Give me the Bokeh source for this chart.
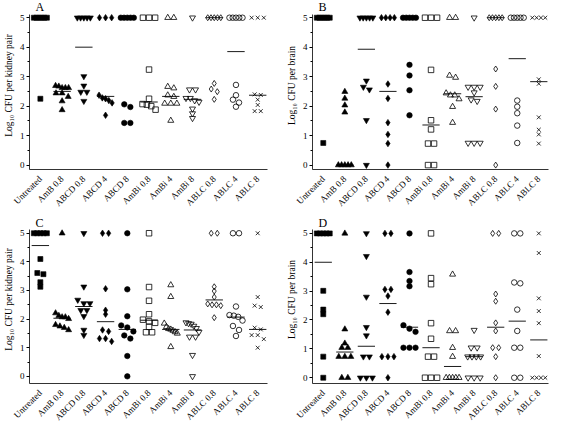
import math
import numpy as np
from bokeh.plotting import figure
from bokeh.layouts import column, row
from bokeh.models import FixedTicker, Label
from bokeh.embed import file_html
from bokeh.resources import INLINE

groups = ["Untreated", "AmB 0.8", "ABCD 0.8", "ABCD 4", "ABCD 8", "AmBi 0.8",
          "AmBi 4", "AmBi 8", "ABLC 0.8", "ABLC 4", "ABLC 8"]

# Panel A: log10 CFU per kidney pair
A_values = [
    [5, 5, 5, 5, 5, 5, 2.25],
    [2.69, 2.67, 2.62, 2.62, 2.62, 2.44, 2.44, 2.32, 2.17, 1.87],
    [5, 5, 5, 5, 5, 3.01, 2.69, 2.48, 2.48, 2.17],
    [5, 5, 5, 2.37, 2.28, 2.25, 2.19, 2.11, 1.69],
    [5, 5, 5, 5, 5, 2.06, 1.97, 1.43, 1.43],
    [5, 5, 5, 3.24, 2.25, 2.07, 2.05, 2.0, 1.88],
    [5, 5, 2.66, 2.61, 2.37, 2.32, 2.09, 2.09, 2.09, 1.51],
    [5, 2.56, 2.56, 2.27, 2.27, 2.19, 2.14, 1.91, 1.75, 1.59],
    [5, 5, 5, 5, 5, 2.77, 2.58, 2.49, 2.23],
    [5, 5, 5, 5, 5, 2.72, 2.37, 2.22, 2.12, 1.98],
    [5, 5, 5, 2.40, 2.38, 2.22, 2.04, 1.83, 1.83],
]
A_medians = [5, 2.5, 4.0, 2.33, 5, 2.14, 2.33, 2.23, 5, 3.85, 2.37]

# Panel B: log10 CFU per brain
B_values = [
    [5, 5, 5, 5, 5, 5, 0.75],
    [2.49, 2.26, 2.03, 1.79, 0, 0, 0, 0, 0],
    [5, 5, 5, 5, 5, 2.86, 2.65, 2.56, 1.52, 0],
    [5, 5, 5, 5, 2.75, 2.26, 1.44, 1.04, 0.73, 0],
    [5, 5, 5, 5, 5, 3.40, 3.04, 2.54, 1.69],
    [5, 5, 5, 3.23, 1.52, 1.21, 0.73, 0.73, 0, 0],
    [5, 5, 3.04, 2.97, 2.44, 2.37, 2.37, 2.24, 1.98, 1.44],
    [5, 2.65, 2.65, 2.65, 2.46, 2.22, 2.17, 0.75, 0.75, 0.75],
    [5, 5, 5, 5, 5, 3.26, 2.67, 1.90, 0],
    [5, 5, 5, 5, 5, 2.19, 1.98, 1.76, 1.34, 0.75],
    [5, 5, 5, 5, 2.91, 2.76, 1.62, 1.20, 1.04, 0.73],
]
B_medians = [5, 0, 3.93, 2.5, 5, 1.36, 2.42, 2.32, 5, 3.61, 2.83]

# Panel C: log10 CFU per kidney pair
C_values = [
    [5, 5, 5, 5, 5, 4.10, 3.61, 3.57, 3.29, 3.13],
    [5, 2.21, 2.12, 2.07, 2.07, 2.01, 1.80, 1.75, 1.70, 1.62],
    [5, 3.13, 2.67, 2.55, 2.55, 2.31, 2.31, 2.10, 1.62, 1.44],
    [5, 5, 3.06, 2.31, 2.17, 1.62, 1.57, 1.32, 1.32, 1.22],
    [5, 3.04, 2.10, 1.78, 1.71, 1.57, 1.43, 1.32, 0.71, 0],
    [5, 3.12, 2.64, 2.17, 1.98, 1.92, 1.87, 1.73, 1.54, 1.54],
    [3.19, 2.78, 1.85, 1.73, 1.66, 1.64, 1.60, 1.55, 1.50, 1.03],
    [1.88, 1.85, 1.83, 1.76, 1.68, 1.55, 1.38, 1.38, 0.74, 0],
    [5, 5, 3.13, 2.98, 2.77, 2.53, 2.50, 2.50, 2.47, 2.05],
    [5, 5, 2.44, 2.14, 2.12, 2.08, 1.95, 1.76, 1.62, 1.41],
    [5, 2.77, 2.47, 2.42, 1.70, 1.64, 1.44, 1.44, 1.30, 1.0],
]
C_medians = [4.57, 2.03, 2.44, 1.91, 1.64, 1.96, 1.64, 1.62, 2.67, 2.07, 1.64]

# Panel D: log10 CFU per brain
D_values = [
    [5, 5, 5, 5, 5, 3.01, 2.36, 2.20, 0.73, 0],
    [5, 1.68, 1.19, 1.04, 1.04, 0.73, 0.73, 0.73, 0, 0],
    [5, 4.21, 2.80, 1.75, 1.46, 0.73, 0.73, 0, 0, 0],
    [5, 5, 3.06, 3.06, 2.83, 2.27, 0.73, 0.73, 0.73, 0],
    [5, 3.66, 3.35, 3.17, 1.82, 1.70, 1.59, 1.04, 1.04, 1.04],
    [5, 3.45, 3.24, 1.89, 1.35, 0.73, 0.73, 0, 0, 0],
    [3.58, 1.62, 1.62, 1.04, 0.73, 0, 0, 0, 0, 0],
    [1.65, 1.04, 1.04, 0.73, 0.73, 0.73, 0.73, 0, 0, 0],
    [5, 5, 2.90, 2.65, 1.90, 1.62, 1.04, 1.04, 0.73, 0],
    [5, 5, 3.30, 3.27, 2.36, 1.62, 1.04, 1.04, 0, 0],
    [5, 4.32, 2.75, 2.31, 1.89, 0.75, 0, 0, 0, 0],
]
D_medians = [4.0, 0.89, 1.09, 2.57, 1.75, 1.04, 0.39, 0.73, 1.75, 1.96, 1.31]

y_ticks = [0, 1, 2, 3, 4, 5]

# styles
MARKERS = ["square", "triangle", "inverted_triangle", "diamond", "circle",
           "square", "triangle", "inverted_triangle", "diamond", "circle", "x"]
FILLED = [True] * 5 + [False] * 6
SIZES = [5, 6, 6, 6.5, 5.5, 5.5, 6, 6, 6, 5.5, 5.5]
FONT = "Liberation Serif"


def spread(vals, thr=0.14):
    """Horizontal spreading of points that would overlap vertically."""
    v = np.asarray(vals, dtype=float)
    order = np.argsort(-v, kind="stable")
    offs = np.zeros(len(v))
    clusters, cur = [], [order[0]]
    for a, b in zip(order[:-1], order[1:]):
        if v[a] - v[b] < thr:
            cur.append(b)
        else:
            clusters.append(cur)
            cur = [b]
    clusters.append(cur)
    for c in clusters:
        n = len(c)
        if n > 1:
            s = min(0.28, 0.6 / (n - 1))
            for i, idx in enumerate(c):
                offs[idx] = (i - (n - 1) / 2) * s
    return offs


def panel(values, medians, letter, ylabel, width, height, ybottom, ytop, border_right):
    p = figure(width=width, height=height, x_range=(-0.5, 10.45),
               y_range=(ybottom, ytop), output_backend="svg",
               toolbar_location=None, min_border_left=24, min_border_right=border_right,
               min_border_top=1, min_border_bottom=10)
    p.outline_line_color = None
    p.grid.visible = False
    p.background_fill_color = "white"
    p.border_fill_color = "white"

    xa = p.xaxis[0]
    xa.ticker = FixedTicker(ticks=list(range(len(groups))))
    xa.major_label_overrides = {i: g for i, g in enumerate(groups)}
    xa.major_label_orientation = math.pi / 4
    xa.major_tick_line_color = None
    xa.minor_tick_line_color = None
    xa.major_label_standoff = 2
    xa.major_label_text_font = FONT
    xa.major_label_text_font_size = "9px"
    xa.major_label_text_color = "black"
    xa.axis_line_color = "black"
    xa.axis_line_width = 0.8

    ya = p.yaxis[0]
    ya.ticker = FixedTicker(ticks=y_ticks, minor_ticks=[t + 0.5 for t in y_ticks[:-1]])
    ya.bounds = (ybottom, 5.12)
    ya.major_tick_out = 3
    ya.major_tick_in = 0
    ya.minor_tick_out = 2
    ya.minor_tick_in = 0
    ya.major_label_standoff = 2
    ya.major_label_text_font = FONT
    ya.major_label_text_font_size = "9px"
    ya.major_label_text_color = "black"
    ya.axis_label = ylabel
    ya.axis_label_standoff = 3
    ya.axis_label_text_font = FONT
    ya.axis_label_text_font_size = "9.5px"
    ya.axis_label_text_font_style = "normal"
    ya.axis_label_text_color = "black"
    ya.axis_line_color = "black"
    ya.axis_line_width = 0.8

    # median lines
    mx0, mx1, my = [], [], []
    for i, m in enumerate(medians):
        mx0.append(i - 0.4)
        mx1.append(i + 0.4)
        my.append(m)
    p.segment(x0=mx0, x1=mx1, y0=my, y1=my, line_color="black", line_width=0.9)

    for i, vals in enumerate(values):
        offs = spread(vals)
        xs = [i + o for o in offs]
        fill = "black" if FILLED[i] else None
        lw = 0.6 if FILLED[i] else 0.8
        p.scatter(xs, vals, marker=MARKERS[i], size=SIZES[i],
                  fill_color=fill, line_color="black", line_width=lw)

    p.add_layout(Label(x=-0.22, y=5.13, text=letter, text_font=FONT,
                       text_font_size="12px", text_baseline="bottom",
                       text_align="left", text_color="black"))
    return p


ylab_k = "Log\u2081\u2080 CFU per kidney pair"
ylab_b = "Log\u2081\u2080 CFU per brain"

pA = panel(A_values, A_medians, "A", ylab_k, 283, 214, -0.15, 5.55, 16)
pB = panel(B_values, B_medians, "B", ylab_b, 267, 214, -0.15, 5.55, 2)
pC = panel(C_values, C_medians, "C", ylab_k, 283, 214, -0.25, 5.62, 16)
pD = panel(D_values, D_medians, "D", ylab_b, 267, 214, -0.2, 5.62, 2)

layout = column(row(pA, pB, spacing=0), row(pC, pD, spacing=0), spacing=0)

open("out.html", "w").write(file_html(layout, INLINE))
